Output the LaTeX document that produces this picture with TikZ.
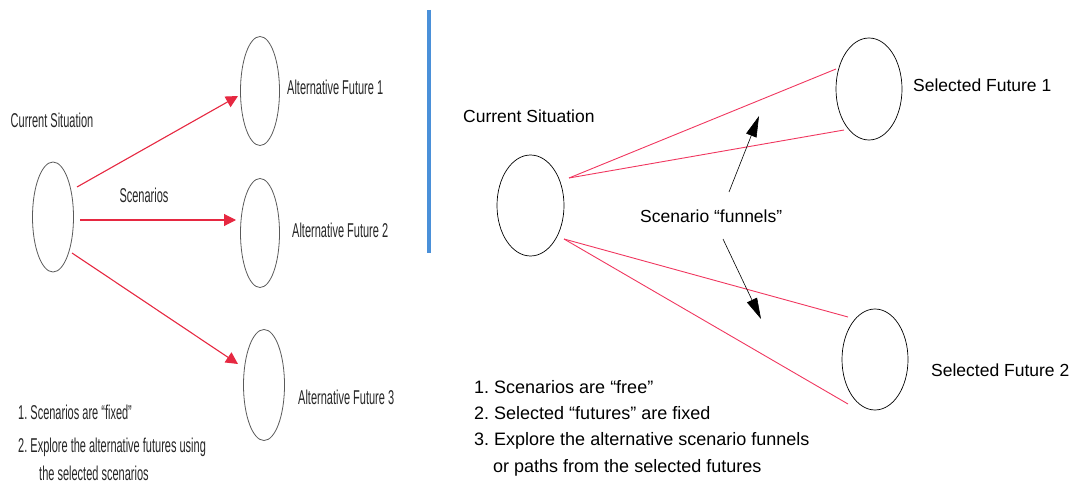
\documentclass[tikz,border=0pt]{standalone}
\usepackage{fontspec}
\setmainfont{Liberation Sans}
\newfontfamily\narrowfont[FakeStretch=0.55]{Liberation Sans}
\usetikzlibrary{shapes.geometric,arrows.meta}

\definecolor{arrowred}{RGB}{230,40,65}
\definecolor{funnelred}{RGB}{240,55,95}
\definecolor{divider}{RGB}{74,144,217}
\definecolor{ovalgrey}{RGB}{90,90,90}

\begin{document}
\frenchspacing
\begin{tikzpicture}[x=1pt,y=-1pt,
  oval/.style={draw=ovalgrey, ellipse, inner sep=0pt, line width=0.8pt},
  rightoval/.style={draw=black, ellipse, inner sep=0pt, line width=0.7pt},
  lefttxt/.style={font=\narrowfont\fontsize{20}{22}\selectfont, text=black!85, inner sep=0pt},
  righttxt/.style={font=\fontsize{17.5}{20}\selectfont, text=black, inner sep=0pt},
  notetxt/.style={font=\fontsize{18}{20}\selectfont, text=black, inner sep=0pt, anchor=west},
  redarrow/.style={draw=arrowred, line width=1.1pt, -{Triangle[length=12pt,width=12pt]}},
  funnel/.style={draw=funnelred, line width=0.9pt},
  pointer/.style={draw=black, line width=0.6pt, -{Triangle[length=21pt,width=11pt]}}
]
\useasboundingbox (0,0) rectangle (1076,484);

% ---------- fixed scenarios ----------
\node[oval, minimum width=41pt, minimum height=110pt] (lcs) at (53,217) {};
\node[oval, minimum width=39pt, minimum height=109pt] (af1) at (260,91) {};
\node[oval, minimum width=39pt, minimum height=109pt] (af2) at (260,233) {};
\node[oval, minimum width=41pt, minimum height=111pt] (af3) at (264,385) {};

\node[lefttxt] (lcslabel) at (52,120) {Current Situation};
\node[lefttxt] (scen) at (144,195) {Scenarios};
\node[lefttxt, anchor=west] (af1label) at (287,87) {Alternative Future 1};
\node[lefttxt, anchor=west] (af2label) at (292,230) {Alternative Future 2};
\node[lefttxt, anchor=west] (af3label) at (298,397) {Alternative Future 3};

\node[lefttxt, anchor=west] (lnote1) at (18,412) {1. Scenarios are “fixed”};
\node[lefttxt, anchor=west] (lnote2) at (18,447) {2. Explore the alternative futures using};
\node[lefttxt, anchor=west] (lnote3) at (39,473) {the selected scenarios};

\coordinate (s1) at (77,187);
\coordinate (s2) at (80,220);
\coordinate (s3) at (72,253);
\coordinate (t1) at (238,96);
\coordinate (t2) at (236,220);
\coordinate (t3) at (238,364);
\draw[redarrow] (s1) -- (t1);
\draw[redarrow] (s2) -- (t2);
\draw[redarrow] (s3) -- (t3);

% ---------- divider ----------
\draw[divider, line width=4pt] (429,10) -- (429,253);

% ---------- free scenarios ----------
\node[rightoval, minimum width=67pt, minimum height=101pt] (rcs) at (530.5,205.5) {};
\node[rightoval, minimum width=66pt, minimum height=102pt] (sf1) at (869,89) {};
\node[rightoval, minimum width=66pt, minimum height=101pt] (sf2) at (875,359.5) {};

\node[righttxt, anchor=west] (rcslabel) at (463,116) {Current Situation};
\node[righttxt, anchor=west] (sf1label) at (913,85) {Selected Future 1};
\node[righttxt, anchor=west] (sf2label) at (931,370) {Selected Future 2};
\node[righttxt, anchor=west] (funnels) at (640,216) {Scenario “funnels”};

\node[notetxt] (rnote1) at (474,387) {1. Scenarios are “free”};
\node[notetxt] (rnote2) at (474,413) {2. Selected “futures” are fixed};
\node[notetxt] (rnote3) at (474,441) {3. Explore the alternative scenario funnels};
\node[notetxt] (rnote4) at (493,468) {or paths from the selected futures};

% funnel edges
\coordinate (fa) at (569,178);
\coordinate (fb) at (564,239);
\coordinate (sf1top) at (836,69);
\coordinate (sf1bot) at (844,130);
\coordinate (sf2top) at (848,317);
\coordinate (sf2bot) at (848,404);
\draw[funnel] (fa) -- (sf1top);
\draw[funnel] (fa) -- (sf1bot);
\draw[funnel] (fb) -- (sf2top);
\draw[funnel] (fb) -- (sf2bot);

% pointers from the funnel label
\coordinate (p1) at (729,192);
\coordinate (p1tip) at (759,116);
\coordinate (p2) at (723,239);
\coordinate (p2tip) at (761,319);
\draw[pointer] (p1) -- (p1tip);
\draw[pointer] (p2) -- (p2tip);
\end{tikzpicture}
\end{document}
